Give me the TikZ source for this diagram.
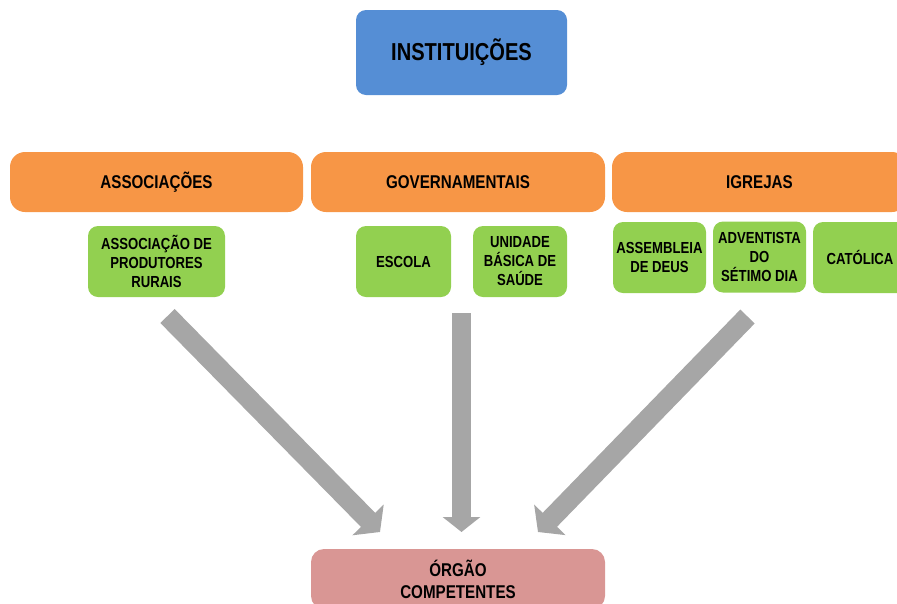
\documentclass[tikz,border=0pt]{standalone}
\usepackage{fontspec}
\setmainfont{Liberation Sans}[FakeStretch=0.82]
\usetikzlibrary{arrows.meta}
\definecolor{cblue}{HTML}{558ED5}
\definecolor{corange}{HTML}{F79646}
\definecolor{cgreen}{HTML}{92D050}
\definecolor{cpink}{HTML}{D99694}
\definecolor{cgray}{HTML}{A6A6A6}
\tikzset{
  box/.style={rectangle, inner sep=0pt, align=center, text=black, font=\bfseries},
  topbox/.style={box, fill=cblue, rounded corners=10pt, minimum width=211pt, minimum height=85pt, font=\bfseries\fontsize{24.5}{28}\selectfont},
  catbox/.style={box, fill=corange, rounded corners=15pt, minimum height=60pt, font=\bfseries\fontsize{18.5}{22}\selectfont},
  itembox/.style={box, fill=cgreen, rounded corners=10pt, minimum width=94pt, minimum height=71pt, font=\bfseries\fontsize{16}{19}\selectfont},
  endbox/.style={box, fill=cpink, rounded corners=13pt, minimum width=294pt, minimum height=60pt, font=\bfseries\fontsize{18.5}{22}\selectfont},
  bigarrow/.style={draw=cgray, line width=20pt, -{Triangle[width=43pt,length=17pt]}}
}
\begin{document}
\begin{tikzpicture}[x=1pt,y=-1pt]
\useasboundingbox (0,0) rectangle (897,603);
\clip (0,0) rectangle (897,603);
\node[topbox] (inst) at (461.5,52.5) {INSTITUIÇÕES};
\node[catbox, minimum width=293pt] (assoc) at (156.5,182) {ASSOCIAÇÕES};
\node[catbox, minimum width=294pt] (gov) at (458,182) {GOVERNAMENTAIS};
\node[catbox, minimum width=295pt] (igr) at (759.5,182) {IGREJAS};
\node[itembox, minimum width=137pt] (apr) at (156.5,261.5) {ASSOCIAÇÃO DE\\PRODUTORES\\RURAIS};
\node[itembox, minimum width=95pt] (esc) at (403.5,261.5) {ESCOLA};
\node[itembox] (ubs) at (520,261.5) {UNIDADE\\BÁSICA DE\\SAÚDE};
\node[itembox, minimum width=93pt] (ad) at (659.5,257.5) {ASSEMBLEIA\\DE DEUS};
\node[itembox, minimum width=93pt] (adv) at (759.5,257) {ADVENTISTA\\DO\\SÉTIMO DIA};
\node[itembox] (cat) at (860,257.5) {CATÓLICA};
\node[endbox] (org) at (458,579) {ÓRGÃO\\COMPETENTES};
\coordinate (a1s) at (167.5,316);
\coordinate (a1e) at (380,532);
\coordinate (a2s) at (461.5,313);
\coordinate (a2e) at (461.5,532);
\coordinate (a3s) at (747.5,316.5);
\coordinate (a3e) at (538,532);
\draw[bigarrow] (a1s) -- (a1e);
\draw[bigarrow, -{Triangle[width=37pt,length=15pt]}, line width=19pt] (a2s) -- (a2e);
\draw[bigarrow] (a3s) -- (a3e);
\end{tikzpicture}
\end{document}
